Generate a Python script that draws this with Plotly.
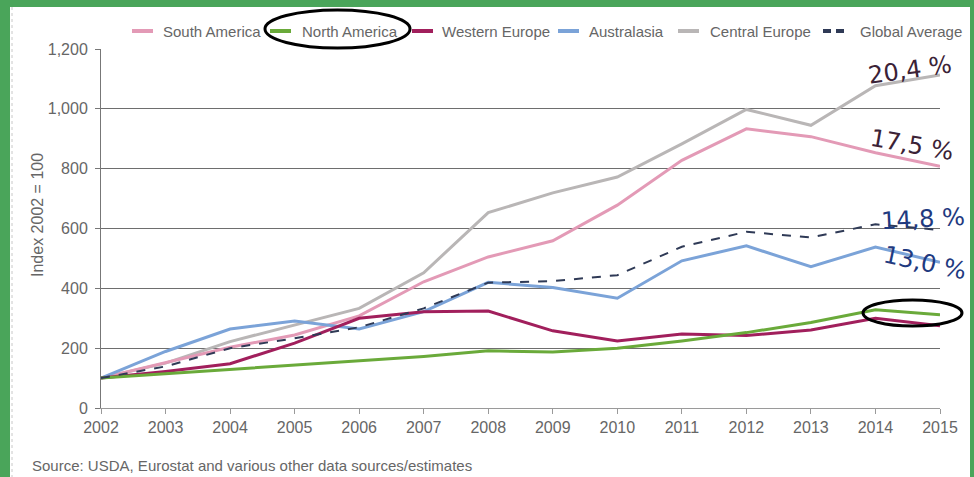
import plotly.graph_objects as go

years = list(range(2002, 2016))

south_america = [100, 152, 203, 244, 308, 422, 505, 559, 678, 828, 933, 907, 853, 808]
north_america = [100, 114, 128, 144, 158, 172, 191, 187, 200, 224, 252, 286, 328, 312]
western_europe = [100, 122, 148, 217, 300, 322, 324, 258, 224, 247, 242, 261, 300, 275]
australasia = [100, 189, 264, 291, 264, 322, 420, 403, 367, 492, 542, 472, 538, 487]
central_europe = [100, 150, 222, 278, 333, 452, 653, 719, 772, 883, 998, 945, 1077, 1113]
global_average = [100, 139, 200, 233, 270, 333, 419, 424, 444, 539, 589, 570, 614, 595]

series_names = ["South America", "North America", "Western Europe",
                "Australasia", "Central Europe", "Global Average"]
growth_labels = ["20,4 %", "17,5 %", "14,8 %", "13,0 %"]

W, H = 974, 477
L, R, T, B = 101, 34, 49, 69
PW, PH = W - L - R, H - T - B


def px(x):
    return (x - L) / PW


def py(y):
    return (T + PH - y) / PH


colors = {
    "South America": "#e39ab6",
    "North America": "#6aaa3a",
    "Western Europe": "#a11f5c",
    "Australasia": "#7ba3d8",
    "Central Europe": "#b9b6b6",
    "Global Average": "#2f3a56",
}
values = {
    "South America": south_america,
    "North America": north_america,
    "Western Europe": western_europe,
    "Australasia": australasia,
    "Central Europe": central_europe,
    "Global Average": global_average,
}

FONT = "Liberation Sans, Arial, sans-serif"
GREY = "#666666"

fig = go.Figure()
draw_order = ["Central Europe", "South America", "Australasia",
              "Western Europe", "North America", "Global Average"]
for name in draw_order:
    dashed = name == "Global Average"
    fig.add_trace(go.Scatter(
        x=years, y=values[name], name=name, mode="lines",
        line=dict(color=colors[name], width=2 if dashed else 3,
                  dash="dash" if dashed else "solid"),
        showlegend=False,
    ))

shapes = []
annotations = []

# hand-drawn legend row
legend_pos = [(132, 161), (270, 300), (412, 440), (558, 587), (678, 708), (823, 858)]
for name, (sx, tx) in zip(series_names, legend_pos):
    dashed = name == "Global Average"
    shapes.append(dict(type="line", xref="paper", yref="paper",
                       x0=px(sx), x1=px(sx + 21), y0=py(31), y1=py(31),
                       line=dict(color=colors[name], width=4,
                                 dash="8px,5px" if dashed else "solid")))
    annotations.append(dict(text=name, xref="paper", yref="paper",
                            x=px(tx), y=py(31), xanchor="left", yanchor="middle",
                            showarrow=False, font=dict(family=FONT, size=15, color=GREY)))

# growth rate labels
label_spec = [
    (growth_labels[0], 910, 70, -8, "#3b2236"),
    (growth_labels[1], 912, 145, 10, "#3b2236"),
    (growth_labels[2], 923, 219, -3, "#1f3a80"),
    (growth_labels[3], 925, 263, 12, "#1f3a80"),
]
for txt, x, y, ang, col in label_spec:
    annotations.append(dict(text=txt, xref="paper", yref="paper", x=px(x), y=py(y),
                            xanchor="center", yanchor="middle", textangle=ang,
                            showarrow=False,
                            font=dict(family="DejaVu Sans, Verdana, sans-serif",
                                      size=24, color=col)))

annotations.append(dict(text="Index 2002 = 100", xref="paper", yref="paper",
                        x=px(37), y=py(215), textangle=-90, showarrow=False,
                        xanchor="center", yanchor="middle",
                        font=dict(family=FONT, size=16, color=GREY)))
annotations.append(dict(text="Source: USDA, Eurostat and various other data sources/estimates",
                        xref="paper", yref="paper", x=px(30), y=py(465),
                        xanchor="left", yanchor="middle", showarrow=False,
                        font=dict(family=FONT, size=15, color=GREY)))

# circles drawn on the picture
shapes.append(dict(type="circle", xref="paper", yref="paper",
                   x0=px(265), x1=px(410), y0=py(10), y1=py(48),
                   line=dict(color="black", width=3)))
shapes.append(dict(type="circle", xref="paper", yref="paper",
                   x0=px(863), x1=px(962), y0=py(300), y1=py(326),
                   line=dict(color="black", width=3)))

# green frame
green = "#4aa55a"
for x0, x1, y0, y1 in [(0, 10, 0, H), (970, W, 0, H), (0, W, 0, 7)]:
    shapes.append(dict(type="rect", xref="paper", yref="paper", layer="above",
                       x0=px(x0), x1=px(x1), y0=py(y0), y1=py(y1),
                       line=dict(width=0), fillcolor=green))
shapes.append(dict(type="line", xref="paper", yref="paper",
                   x0=px(12), x1=px(12), y0=py(7), y1=py(H),
                   line=dict(color="#c8c8c8", width=1, dash="dot")))

fig.update_layout(
    width=W, height=H,
    margin=dict(l=L, r=R, t=T, b=B),
    paper_bgcolor="white", plot_bgcolor="white",
    shapes=shapes, annotations=annotations,
    xaxis=dict(range=[2002, 2015], tickmode="array", tickvals=years,
               ticktext=[str(y) for y in years],
               showgrid=False, zeroline=False, showline=True, linecolor="#9a9a9a",
               linewidth=1, ticks="outside", ticklen=5, tickcolor="#9a9a9a",
               tickfont=dict(family=FONT, size=16, color=GREY)),
    yaxis=dict(range=[0, 1200], tickvals=[0, 200, 400, 600, 800, 1000, 1200],
               ticktext=["0", "200", "400", "600", "800", "1,000", "1,200"],
               showgrid=True, gridcolor="#6e6e6e", gridwidth=1,
               zeroline=False, showline=True, linecolor="#777777", linewidth=1,
               ticks="outside", ticklen=5, tickcolor="#777777",
               ticklabelstandoff=4,
               tickfont=dict(family=FONT, size=16, color=GREY)),
)

fig.write_html("out.html", config={"displayModeBar": False},
               post_script="document.body.style.margin='0';")
